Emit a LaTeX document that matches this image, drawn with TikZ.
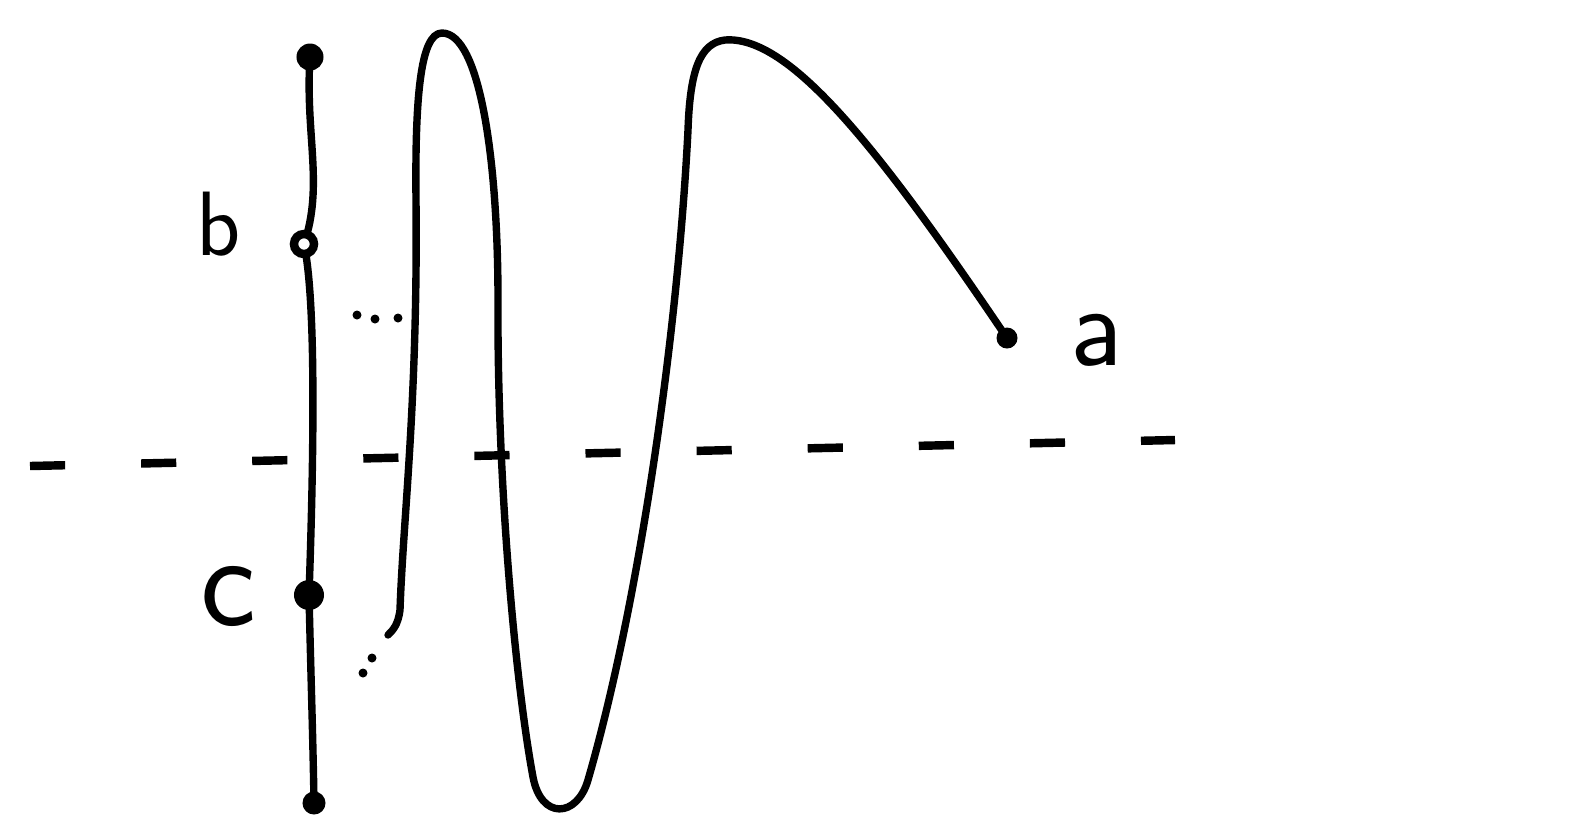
\documentclass[tikz,border=0pt]{standalone}
\usepackage{tikz}
\usetikzlibrary{backgrounds}

\begin{document}
\begin{tikzpicture}[x=0.01cm, y=-0.01cm,
	stroke/.style={line width=2.1pt, line cap=round, line join=round},
	pt/.style={circle, fill=black, inner sep=0pt, minimum size=0.27cm},
	hollowpt/.style={circle, draw=black, line width=2.4pt, fill=white,
		inner sep=0pt, minimum size=0.2cm},
	dotsm/.style={circle, fill=black, inner sep=0pt, minimum size=0.09cm},
	lbl/.style={font=\sffamily\fontsize{26}{30}\selectfont},
	dashline/.style={line width=2.4pt, dash pattern=on 10pt off 21.6pt}]
	\useasboundingbox (0,0) rectangle (1575,823);
	% puntos sobre la recta vertical
	\node[pt] (top) at (310,57) {};
	\node[hollowpt] (b) at (304,244) {};
	\node[pt, minimum size=0.3cm] (c) at (309,595) {};
	\node[pt, minimum size=0.23cm] (bot) at (314,803) {};
	\node[pt, minimum size=0.21cm] (a) at (1007,338) {};
	% etiquetas
	\node[lbl] (lb) at (219,224) {b};
	\node[lbl, font=\sffamily\fontsize{38}{40}\selectfont] (lc) at (228,596) {c};
	\node[lbl, font=\sffamily\fontsize{33}{36}\selectfont] (la) at (1097,340) {a};
	% puntos suspensivos
	\foreach \i/\x/\y in {1/357/315, 2/375/319, 3/398/318}
		{\node[dotsm] (d\i) at (\x,\y) {};}
	\foreach \i/\x/\y in {1/372/658, 2/363/673}
		{\node[dotsm] (e\i) at (\x,\y) {};}
	% linea discontinua
	\coordinate (dl) at (30,466);
	\coordinate (dr) at (1175,440);
	\draw[dashline] (dl) -- (dr);
	\begin{scope}[on background layer]
		% recta vertical
		\draw[stroke] (top.center) .. controls (305,135) and (324,185) .. (b.center)
			.. controls (316,300) and (314,450) .. (c.center)
			.. controls (311,680) and (313,740) .. (bot.center);
		% curva desde a
		\draw[stroke] (a.center) .. controls (880,150) and (790,35) .. (725,40)
			.. controls (700,43) and (690,70) .. (688,130)
			.. controls (678,330) and (640,600) .. (588,780)
			.. controls (577,818) and (541,820) .. (533,777)
			.. controls (515,680) and (497,480) .. (498,300)
			.. controls (498,160) and (480,33) .. (442,33)
			.. controls (420,33) and (415,100) .. (416,200)
			.. controls (418,400) and (403,520) .. (400,610)
			.. controls (398,625) and (393,630) .. (388,635);
	\end{scope}
\end{tikzpicture}
\end{document}
